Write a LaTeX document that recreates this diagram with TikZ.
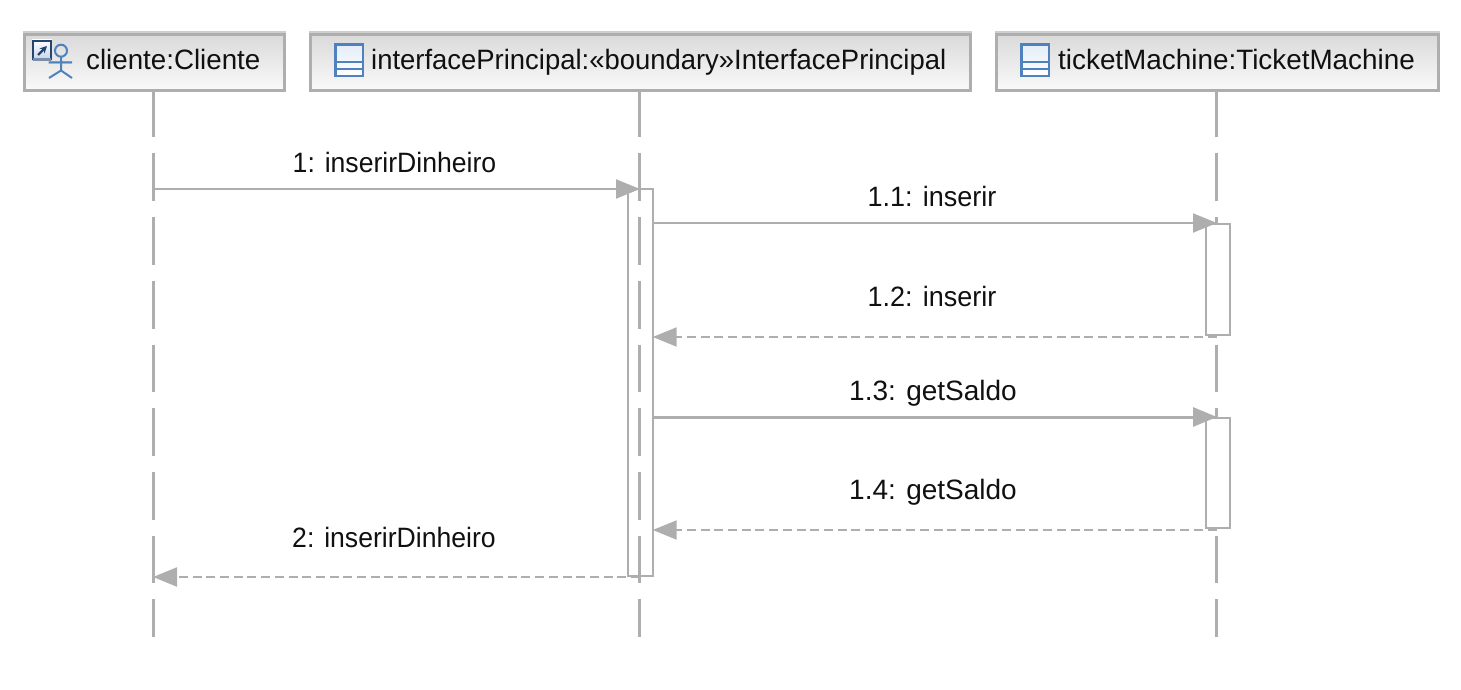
\documentclass[tikz,border=0pt]{standalone}
\usepackage{graphicx}
\usepackage{fontspec}
\setmainfont{Liberation Sans}
\usetikzlibrary{arrows.meta,calc}
\definecolor{ln}{HTML}{AEAEAE}
\definecolor{lnl}{HTML}{CECECE}
\definecolor{icb}{HTML}{4F81BD}
\definecolor{icd}{HTML}{24456F}
\definecolor{txt}{HTML}{101010}
\definecolor{ltop}{HTML}{DADADA}
\definecolor{lbot}{HTML}{FAFAFA}
\definecolor{icf}{HTML}{E4EDF8}
\tikzset{
 x=1pt,y=-1pt,
 headbox/.style={draw=ln,line width=3pt,top color=ltop,bottom color=lbot,minimum height=56.3pt,inner sep=0pt,outer sep=0pt,anchor=north west},
 lifeline/.style={draw=ln,line width=3pt,dash pattern=on 47.7pt off 16pt,dash phase=2.3pt},
 actbar/.style={draw=ln,line width=2pt,inner sep=0pt,outer sep=0pt,minimum width=24.4pt,anchor=north west},
 msg/.style={draw=ln,line width=2pt,-{Triangle[length=24pt,width=19pt,color=ln]}},
 msgthick/.style={msg,line width=3pt},
 ret/.style={msg,dash pattern=on 9pt off 4.7pt},
 lbl/.style={font=\fontsize{28pt}{30pt}\selectfont,text=txt,inner sep=0pt,anchor=base},
 headlbl/.style={lbl,anchor=base west},
 classicon/.pic={
   \path[top color=icf,bottom color=white] (0,0) rectangle (27.5,31.5);
   \draw[icb,line width=2.4pt] (0,0) rectangle (27.5,31.5);
   \draw[icb,line width=2.4pt] (0,17.5) -- (27.5,17.5) (0,24.5) -- (27.5,24.5);
 }
}
\begin{document}
\begin{tikzpicture}
\useasboundingbox (0,0) rectangle (1461,690);
% heads
\draw[lnl,line width=2.4pt] (23,32.2) -- (286,32.2) (309,32.2) -- (971.5,32.2) (995,32.2) -- (1440,32.2);
\node[headbox,minimum width=260pt] (hc) at (24.5,34.7) {};
\node[headbox,minimum width=659.5pt] (hi) at (310.5,34.7) {};
\node[headbox,minimum width=442pt] (ht) at (996.5,34.7) {};
\node[headlbl] (lc) at (86,70) {\scalebox{.99}[1]{cliente:Cliente}};
\node[headlbl] (li) at (371,70) {\scalebox{.98}[1]{interfacePrincipal:«boundary»InterfacePrincipal}};
\node[headlbl] (lt) at (1058,70) {\scalebox{.995}[1]{ticketMachine:TicketMachine}};
% icons
\pic at (335.5,44.6) {classicon};
\pic at (1021.3,44.6) {classicon};
% actor icon
\fill[icb!35] (48,61) rectangle (72,64);
\draw[icb,line width=2pt] (61,50.7) circle (6);
\draw[icb,line width=2pt] (61,57) -- (61,70.5) (49,62.3) -- (72,62.3) (49,78) -- (61,70.5) -- (72,78);
\path[top color=white,bottom color=icb!35] (32,40) rectangle (52,60.5);
\draw[icd,line width=2.4pt] (33,60) -- (33,41.2) -- (51,41.2) -- (51,60);
\draw[icd!60,line width=2.4pt] (33,59.5) -- (51,59.5);
\draw[icd,line width=2.2pt,-{Stealth[length=7pt,width=7pt]}] (38,55) -- (47,46);
% lifeline ends
\coordinate (ec) at (153.5,637);
\coordinate (ei) at (639,637);
\coordinate (et) at (1216.5,637);
\coordinate (sc) at (153.5,92);
\coordinate (si) at (639,92);
\coordinate (st) at (1216.5,92);
\path[lifeline] (sc) -- (ec);
\path[lifeline] (si) -- (ei);
\path[lifeline] (st) -- (et);
% activations
\node[actbar,minimum height=387pt] (ai) at (628.3,189) {};
\node[actbar,fill=white,minimum height=111pt] (at1) at (1205.5,223.5) {};
\node[actbar,fill=white,minimum height=110.5pt] (at2) at (1205.5,417.5) {};
% message anchors
\coordinate (m1s) at (153.5,189);
\coordinate (m1e) at (640,189);
\coordinate (m2s) at (640,577);
\coordinate (m2e) at (153,577);
\coordinate (m11e) at (1217,223);
\coordinate (m13e) at (1217,417);
\draw[msg] (m1s) -- (m1e);
\draw[msg] (ai.east |- m11e) -- (m11e);
\draw[ret] (st |- 0,337) -- (ai.east |- 0,337);
\draw[msgthick] (ai.east |- m13e) -- (m13e);
\draw[ret] (st |- 0,530) -- (ai.east |- 0,530);
\draw[ret] (m2s) -- (m2e);
% labels
\node[lbl] (t1) at (394.5,172) {\scalebox{.95}[1]{1: inserirDinheiro}};
\node[lbl] (t11) at (932,206) {\scalebox{.965}[1]{1.1: inserir}};
\node[lbl] (t12) at (932,306) {\scalebox{.965}[1]{1.2: inserir}};
\node[lbl] (t13) at (933,400) {1.3: getSaldo};
\node[lbl] (t14) at (933,499) {1.4: getSaldo};
\node[lbl] (t2) at (394,547) {\scalebox{.95}[1]{2: inserirDinheiro}};
\end{tikzpicture}
\end{document}
